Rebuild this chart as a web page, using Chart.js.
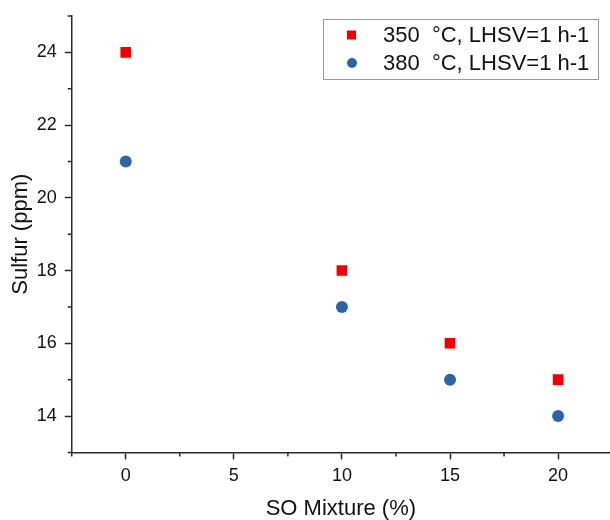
<!DOCTYPE html>
<html>
<head>
<meta charset="utf-8">
<script src="https://cdn.jsdelivr.net/npm/chart.js@4.4.1/dist/chart.umd.min.js"></script>
<style>
  html, body { margin: 0; padding: 0; background: #fff; overflow: hidden; }
  #wrap { width: 610px; height: 520px; }
</style>
</head>
<body>
<div id="wrap"><canvas id="myChart" width="610" height="520"></canvas></div>
<script>
// SO mixture (%) and sulfur content (ppm)
const mixture = [0, 10, 15, 20];
const sulfur350 = [24, 18, 16, 15];
const sulfur380 = [21, 17, 15, 14];
const xTicks = [0, 5, 10, 15, 20];
const yTicks = [14, 16, 18, 20, 22, 24];
const seriesNames = ['350  °C, LHSV=1 h-1', '380  °C, LHSV=1 h-1'];

const axisColor = '#2a2a2a';
const font = 'Arial, "Liberation Sans", sans-serif';

function points(ys) {
  return mixture.map((x, i) => ({ x: x, y: ys[i] }));
}

// minor ticks between the labelled ones + the boxed legend
const extras = {
  id: 'extras',
  afterDraw(chart) {
    const c = chart.ctx;
    const xs = chart.scales.x, ys = chart.scales.y;
    const area = chart.chartArea;
    c.save();
    c.strokeStyle = axisColor;
    c.lineWidth = 1.5;
    c.beginPath();
    for (let v = -2.5; v <= xs.max; v += 5) {
      const px = xs.getPixelForValue(v);
      c.moveTo(px, area.bottom);
      c.lineTo(px, area.bottom + 4);
    }
    for (let v = 13; v <= 25; v += 2) {
      const py = ys.getPixelForValue(v);
      c.moveTo(area.left, py);
      c.lineTo(area.left - 4, py);
    }
    c.stroke();

    // legend
    const bx = 323, by = 19, bw = 275, bh = 60;
    c.strokeStyle = '#9a9a9a';
    c.lineWidth = 1;
    c.strokeRect(bx + 0.5, by + 0.5, bw, bh);
    c.font = '22px ' + font;
    c.textBaseline = 'middle';
    chart.data.datasets.forEach((ds, i) => {
      const ry = by + 16 + i * 28;
      c.fillStyle = ds.backgroundColor;
      if (ds.pointStyle === 'rect') {
        c.fillRect(bx + 24, ry - 4.5, 9, 9);
      } else {
        c.beginPath();
        c.arc(bx + 29, ry, 5, 0, Math.PI * 2);
        c.fill();
      }
      c.fillStyle = '#111';
      c.fillText(ds.label, bx + 60, ry + 1);
    });
    c.restore();
  }
};

var ctx = document.getElementById('myChart').getContext('2d');
var chart = new Chart(ctx, {
  type: 'scatter',
  data: {
    datasets: [{
      label: seriesNames[0],
      data: points(sulfur350),
      pointStyle: 'rect',
      pointRadius: 7.5,
      backgroundColor: '#f00000',
      borderColor: '#f00000',
      borderWidth: 0
    }, {
      label: seriesNames[1],
      data: points(sulfur380),
      pointStyle: 'circle',
      pointRadius: 6,
      backgroundColor: '#2e64a4',
      borderColor: '#2e64a4',
      borderWidth: 0
    }]
  },
  options: {
    responsive: false,
    animation: false,
    layout: { autoPadding: false, padding: { left: 0, top: 16, right: 0, bottom: 0 } },
    plugins: {
      legend: { display: false },
      tooltip: { enabled: false }
    },
    scales: {
      x: {
        type: 'linear',
        min: -2.5,
        max: 22.4,
        afterBuildTicks: s => { s.ticks = xTicks.map(v => ({ value: v })); },
        afterFit: s => { s.height = 67.6; s.paddingRight = 0; s.paddingLeft = 0; },
        border: { display: true, color: axisColor, width: 1.5 },
        grid: { drawOnChartArea: false, tickLength: 7, tickColor: axisColor, tickWidth: 1.5 },
        ticks: { color: '#111', font: { family: font, size: 18 }, padding: 6, maxRotation: 0 },
        title: { display: true, text: 'SO Mixture (%)', color: '#111', font: { family: font, size: 22, lineHeight: 1 }, padding: 0 }
      },
      y: {
        type: 'linear',
        min: 13,
        max: 25,
        afterBuildTicks: s => { s.ticks = yTicks.map(v => ({ value: v })); },
        afterFit: s => { s.width = 71.7; s.paddingTop = 0; s.paddingBottom = 0; },
        border: { display: true, color: axisColor, width: 1.5 },
        grid: { drawOnChartArea: false, tickLength: 7, tickColor: axisColor, tickWidth: 1.5 },
        ticks: { color: '#111', font: { family: font, size: 18 }, padding: 8 },
        title: { display: true, text: 'Sulfur (ppm)', color: '#111', font: { family: font, size: 22, lineHeight: 1 }, padding: { top: 10, bottom: 0 } }
      }
    }
  },
  plugins: [extras]
});
</script>
</body>
</html>
